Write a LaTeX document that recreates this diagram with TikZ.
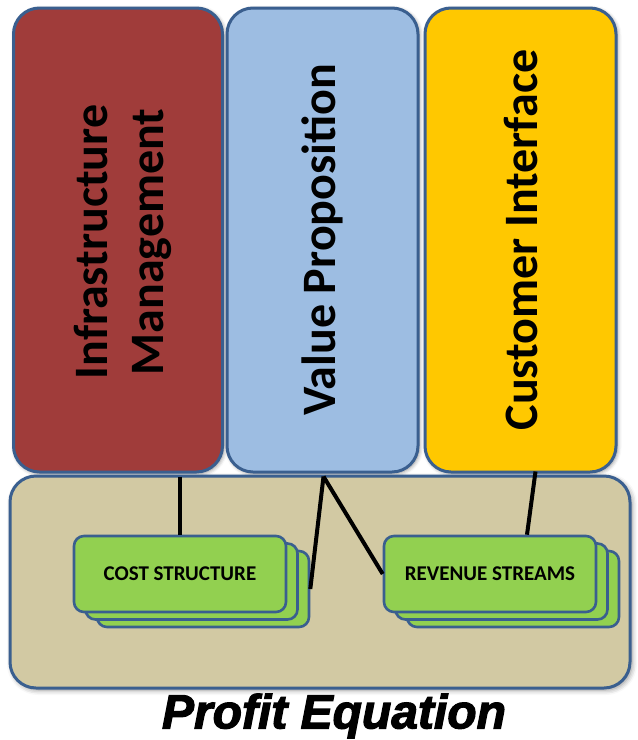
\documentclass[tikz,border=0pt]{standalone}
\usepackage{fontspec}
\setmainfont{Carlito}
\newfontfamily\titlefont{Liberation Sans}
\usetikzlibrary{shadows.blur,calc}
\definecolor{edgeblue}{RGB}{58,95,143}
\definecolor{brick}{RGB}{160,60,58}
\definecolor{sky}{RGB}{157,189,226}
\definecolor{gold}{RGB}{255,200,0}
\definecolor{sand}{RGB}{210,201,163}
\definecolor{leaf}{RGB}{146,208,80}
\tikzset{
  pillar/.style={draw=edgeblue, line width=3pt, rounded corners=26pt, rotate=90,
    align=center, inner sep=0pt, font=\bfseries\fontsize{48}{56}\selectfont,
    blur shadow={shadow xshift=1.5pt, shadow yshift=-1.5pt, shadow blur radius=4pt, shadow opacity=45}},
  pillartext/.style={rotate=90, align=center, inner sep=0pt, font=\bfseries\fontsize{48}{56}\selectfont},
  base/.style={draw=edgeblue, line width=3pt, rounded corners=26pt, fill=sand,
    minimum width=620pt, minimum height=212pt, inner sep=0pt,
    blur shadow={shadow xshift=2pt, shadow yshift=-2pt, shadow blur radius=5pt, shadow opacity=45}},
  card/.style={draw=edgeblue, line width=2.6pt, rounded corners=10pt, fill=leaf,
    minimum width=212pt, minimum height=76pt, inner sep=0pt,
    font=\bfseries\fontsize{21}{24}\selectfont},
  link/.style={line width=4pt, black},
}
\begin{document}
\begin{tikzpicture}[x=1pt,y=-1pt]
\useasboundingbox (0,0) rectangle (638,740);
% pillars
\node[pillar, fill=brick, minimum width=464pt, minimum height=209pt] (infra) at (118,240) {};
\node[pillartext] (infratext) at (123,242) {Infrastructure\\[0pt]Management};
\node[pillar, fill=sky, minimum width=464pt, minimum height=191pt] (vp) at (322.5,240)
  {Value Proposition};
\node[pillar, fill=gold, minimum width=464pt, minimum height=191pt] (cust) at (520.5,240)
  {Customer Interface};
% base on top of pillar bottoms
\node[base] (base) at (320,582) {};
% cost structure stack
\node[card] (cs3) at (203,589) {};
\node[card] (cs2) at (191.5,581.5) {};
\node[card] (cs1) at (180,574) {COST STRUCTURE};
% revenue stack
\node[card] (rs3) at (513,589) {};
\node[card] (rs2) at (501.5,581.5) {};
\node[card] (rs1) at (490,574) {REVENUE STREAMS};
% connectors
\draw[link] (cs1.north |- base.north) ++(0,2) -- (cs1.north);
\coordinate (vpfoot) at ($(vp.west)+(1,3)$);
\draw[link] (vpfoot) -- (cs3.east);
\draw[link] (vpfoot) -- (rs1.west);
\coordinate (custfoot) at ($(cust.west)+(15,-2)$);
\draw[link] (custfoot) -- ($(rs1.north)+(37,0)$);
% title
\node[font=\titlefont\bfseries\itshape\addfontfeature{FakeBold=2.5}\fontsize{48}{50}\selectfont, inner sep=0pt] (title) at (334,716) {Profit Equation};
\end{tikzpicture}
\end{document}
